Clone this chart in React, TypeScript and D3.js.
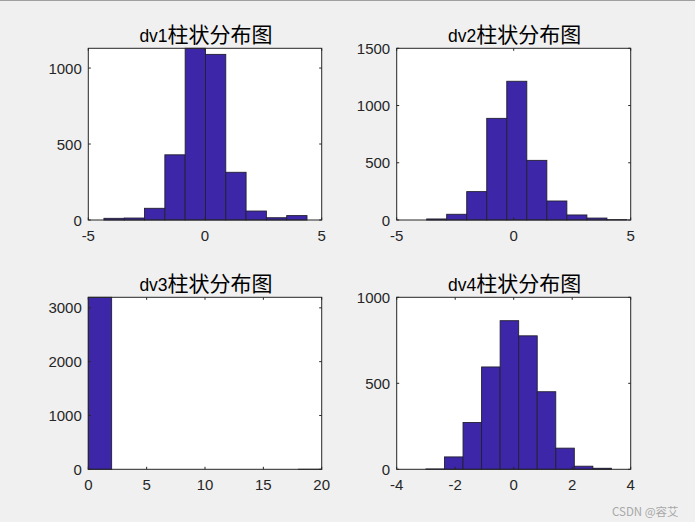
import React from "react";
import * as d3 from "d3";

const titles = ["dv1", "dv2", "dv3", "dv4"];
const binStarts = [-4.33, -3.72, 0, -3.0];
const binWidths = [0.87, 0.856, 2, 0.634];
const dv1Counts = [11, 13, 77, 429, 1130, 1090, 314, 59, 15, 29];
const dv2Counts = [9, 50, 248, 888, 1212, 521, 166, 44, 17, 3];
const dv3Counts = [3196, 0, 0, 0, 0, 0, 0, 0, 0, 1];
const dv4Counts = [2, 72, 272, 595, 864, 776, 451, 123, 18, 6];
const counts = [dv1Counts, dv2Counts, dv3Counts, dv4Counts];
const xDomains: [number, number][] = [[-5, 5], [-5, 5], [0, 20], [-4, 4]];
const yDomains: [number, number][] = [[0, 1130], [0, 1500], [0, 3196], [0, 1000]];
const xTicks = [[-5, 0, 5], [-5, 0, 5], [0, 5, 10, 15, 20], [-4, -2, 0, 2, 4]];
const yTicks = [[0, 500, 1000], [0, 500, 1000, 1500], [0, 1000, 2000, 3000], [0, 500, 1000]];
const titleSuffix = "柱状分布图";

const boxes = [
  { x: 88.3, y: 48.3, w: 233.4, h: 171.7 },
  { x: 396.7, y: 48.3, w: 234, h: 171.7 },
  { x: 88.3, y: 297.3, w: 233.4, h: 172 },
  { x: 396.7, y: 297.3, w: 234, h: 172 },
];

const AX = "#262626";
const FILL = "#3d26a8";
const LATIN = "'Liberation Sans', Arial, sans-serif";
const CJK = "'Noto Sans CJK SC', sans-serif";

function Panel({ i }: { i: number }) {
  const b = boxes[i];
  const x = d3.scaleLinear().domain(xDomains[i]).range([b.x, b.x + b.w]);
  const y = d3.scaleLinear().domain(yDomains[i]).range([b.y + b.h, b.y]);
  const tl = 2.5;
  return (
    <g>
      <rect x={b.x} y={b.y} width={b.w} height={b.h} fill="#fff" />
      {counts[i].map((c, k) => {
        if (c <= 0) return null;
        const x0 = x(binStarts[i] + k * binWidths[i]);
        const x1 = x(binStarts[i] + (k + 1) * binWidths[i]);
        return (
          <rect
            key={k}
            x={x0}
            y={y(c)}
            width={x1 - x0}
            height={y(0) - y(c)}
            fill={FILL}
            stroke="#232033"
            strokeWidth={0.9}
          />
        );
      })}
      {xTicks[i].map((t) => (
        <g key={"x" + t}>
          <line x1={x(t)} x2={x(t)} y1={b.y + b.h} y2={b.y + b.h - tl} stroke={AX} />
          <line x1={x(t)} x2={x(t)} y1={b.y} y2={b.y + tl} stroke={AX} />
          <text
            x={x(t)}
            y={b.y + b.h + 21}
            textAnchor="middle"
            fontFamily={LATIN}
            fontSize={15}
            fill={AX}
          >
            {t < 0 ? "-" + Math.abs(t) : String(t)}
          </text>
        </g>
      ))}
      {yTicks[i].map((t) => (
        <g key={"y" + t}>
          <line x1={b.x} x2={b.x + tl} y1={y(t)} y2={y(t)} stroke={AX} />
          <line x1={b.x + b.w} x2={b.x + b.w - tl} y1={y(t)} y2={y(t)} stroke={AX} />
          <text
            x={b.x - 6.5}
            y={y(t) + 5.5}
            textAnchor="end"
            fontFamily={LATIN}
            fontSize={15}
            fill={AX}
          >
            {t}
          </text>
        </g>
      ))}
      <rect x={b.x} y={b.y} width={b.w} height={b.h} fill="none" stroke={AX} strokeWidth={1} />
      <text x={b.x + b.w / 2 + 1} y={b.y - 6.8} textAnchor="middle" fill="#000">
        <tspan fontFamily={LATIN} fontSize={17.5}>{titles[i]}</tspan>
        <tspan fontFamily={CJK} fontSize={21}>{titleSuffix}</tspan>
      </text>
    </g>
  );
}

export default function App() {
  return (
    <svg
      width={695}
      height={522}
      style={{ position: "absolute", left: 0, top: 0, display: "block" }}
    >
      <rect x={0} y={0} width={695} height={522} fill="#f0f0f0" />
      <line x1={0} x2={695} y1={0.5} y2={0.5} stroke="#a0a0a0" />
      {[0, 1, 2, 3].map((i) => (
        <Panel key={i} i={i} />
      ))}
      <text x={612} y={516} fontFamily={CJK} fontSize={11.5} fill="#a8a8a8">
        CSDN @容艾
      </text>
    </svg>
  );
}
